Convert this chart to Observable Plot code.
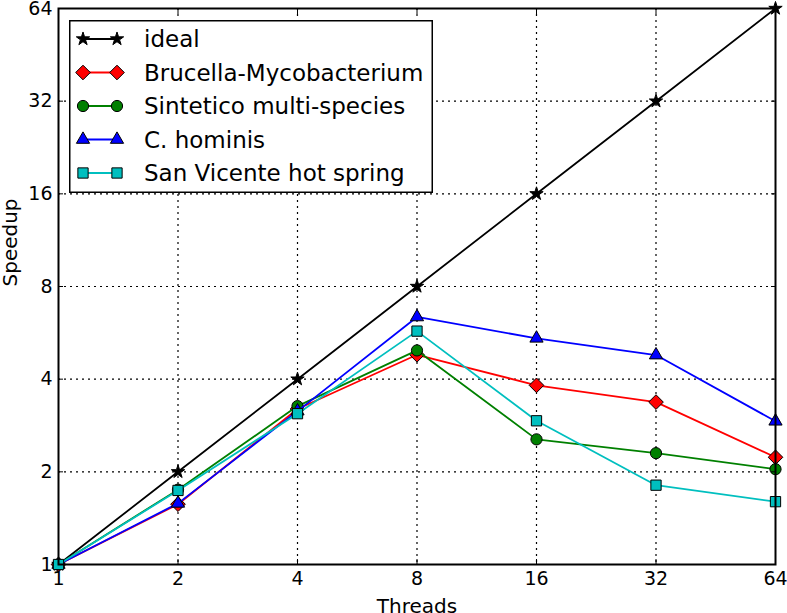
<!DOCTYPE html>
<html>
<head>
<meta charset="utf-8">
<script src="https://cdn.jsdelivr.net/npm/d3@7"></script>
<script src="https://cdn.jsdelivr.net/npm/@observablehq/plot@0.6"></script>
<style>
  html, body { margin: 0; padding: 0; background: #fff; }
  #wrap { position: relative; width: 787px; height: 613px; overflow: hidden; font-family: "DejaVu Sans", sans-serif; }
  #legend { position: absolute; left: 69px; top: 20px; }
</style>
</head>
<body>
<div id="wrap"></div>
<script>
// ---- data ----
const threads = [1, 2, 4, 8, 16, 32, 64];
const ticks = [1, 2, 4, 8, 16, 32, 64];
const seriesNames = ["ideal", "Brucella-Mycobacterium", "Sintetico multi-species", "C. hominis", "San Vicente hot spring"];
const ideal = [1, 2, 4, 8, 16, 32, 64];
const brucella = [1, 1.57, 3.2, 4.8, 3.82, 3.37, 2.23];
const sintetico = [1, 1.75, 3.27, 4.96, 2.55, 2.30, 2.04];
const hominis = [1, 1.58, 3.15, 6.37, 5.43, 4.79, 2.92];
const sanVicente = [1, 1.74, 3.09, 5.73, 2.93, 1.81, 1.60];
const colors = ["#000000", "#ff0000", "#008000", "#0000ff", "#00bfbf"];
const symbols = ["star", "diamond2", "circle", "triangle", "square"];
const radii = [4.2, 6.6, 5.6, 4.9, 5.8];
const xLabel = "Threads";
const yLabel = "Speedup";

const allValues = [ideal, brucella, sintetico, hominis, sanVicente];
const series = seriesNames.map((name, i) => ({
  name, color: colors[i], symbol: symbols[i], r: radii[i],
  rows: threads.map((t, j) => ({threads: t, speedup: allValues[i][j]}))
}));

const marks = [
  Plot.gridX(ticks.slice(1, -1), {stroke: "#000", strokeOpacity: 1, strokeWidth: 1.2, strokeDasharray: "2,4"}),
  Plot.gridY(ticks.slice(1, -1), {stroke: "#000", strokeOpacity: 1, strokeWidth: 1.2, strokeDasharray: "2,4"}),
];
for (const s of series) {
  marks.push(Plot.line(s.rows, {x: "threads", y: "speedup", stroke: s.color, strokeWidth: 1.8}));
  marks.push(Plot.dot(s.rows, {x: "threads", y: "speedup", symbol: () => s.symbol, r: s.r,
    fill: s.color, stroke: "#000", strokeWidth: 1}));
}
marks.push(
  Plot.axisX(ticks, {anchor: "bottom", tickSize: -5, tickPadding: 12, tickFormat: d => d, fontSize: 19, label: null}),
  Plot.axisX(ticks, {anchor: "top", tickSize: -5, tickFormat: () => "", label: null}),
  Plot.axisY(ticks, {anchor: "left", tickSize: -5, tickPadding: 11, tickFormat: d => d, fontSize: 19, label: null}),
  Plot.axisY(ticks, {anchor: "right", tickSize: -5, tickFormat: () => "", label: null}),
  Plot.text([xLabel], {frameAnchor: "bottom", dy: 48, fontSize: 20, fill: "#000"}),
  Plot.text([yLabel], {frameAnchor: "left", dx: -48, rotate: -90, fontSize: 20, fill: "#000"}),
  Plot.frame({stroke: "#000", strokeWidth: 2})
);

const chart = Plot.plot({
  width: 787,
  height: 613,
  marginLeft: 58,
  marginRight: 12,
  marginTop: 8,
  marginBottom: 49,
  style: {fontFamily: "DejaVu Sans, sans-serif", fontSize: "19px", color: "#000", background: "#fff", overflow: "visible"},
  x: {type: "log", base: 2, domain: [1, 64]},
  y: {type: "log", base: 2, domain: [1, 64]},
  marks
});
document.getElementById("wrap").appendChild(chart);

// ---- legend (HTML overlay, symbols drawn with d3) ----
const lw = 364, lh = 173, rowH = 33.5, row0 = 19;
const leg = d3.select("#wrap").append("svg").attr("id", "legend")
  .attr("width", lw).attr("height", lh);
leg.append("rect").attr("x", 0.75).attr("y", 0.75).attr("width", lw - 1.5).attr("height", lh - 1.5)
  .attr("fill", "#fff").attr("stroke", "#000").attr("stroke-width", 1.5);
const symMap = {star: d3.symbolStar, diamond2: d3.symbolDiamond2, circle: d3.symbolCircle, triangle: d3.symbolTriangle, square: d3.symbolSquare};
series.forEach((s, i) => {
  const g = leg.append("g").attr("transform", `translate(0,${row0 + i * rowH})`);
  g.append("line").attr("x1", 14).attr("x2", 48).attr("stroke", s.color).attr("stroke-width", 1.8);
  const path = d3.symbol(symMap[s.symbol], Math.PI * s.r * s.r)();
  for (const x of [14, 48]) {
    g.append("path").attr("d", path).attr("transform", `translate(${x},0)`)
      .attr("fill", s.color).attr("stroke", "#000").attr("stroke-width", 1);
  }
  g.append("text").attr("x", 75).attr("y", 0).attr("dy", "0.35em")
    .attr("font-family", "DejaVu Sans, sans-serif").attr("font-size", 23).attr("fill", "#000")
    .text(s.name);
});
</script>
</body>
</html>
